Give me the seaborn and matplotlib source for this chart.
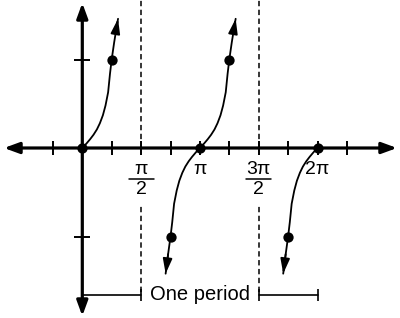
import numpy as np
import pandas as pd
import matplotlib
matplotlib.use("Agg")
import matplotlib.pyplot as plt
import seaborn as sns

sns.set_style("white")
plt.rcParams['font.family'] = ['Liberation Sans', 'DejaVu Sans']
plt.rcParams['text.color'] = 'black'

PI = np.pi
# ---- data ----
branch1_x = [0.0, 0.11, 0.21, 0.30, 0.39, 0.47, 0.55, 0.62, 0.69, 0.74, 0.785, 0.85, 0.93, 0.955]
branch1_y = [0.0, 0.05, 0.10, 0.15, 0.21, 0.28, 0.37, 0.48, 0.63, 0.84, 1.0, 1.19, 1.40, 1.46]
branch2_x = [2.226, 2.292, 2.357, 2.402, 2.452, 2.522, 2.592, 2.672, 2.752, 2.842, 2.932, 3.032, 3.142,
             3.252, 3.352, 3.442, 3.532, 3.612, 3.692, 3.762, 3.832, 3.882, 3.927, 3.992, 4.072, 4.097]
branch2_y = [-1.42, -1.2, -1.0, -0.84, -0.63, -0.48, -0.37, -0.28, -0.21, -0.15, -0.10, -0.05, 0.0,
             0.05, 0.10, 0.15, 0.21, 0.28, 0.37, 0.48, 0.63, 0.84, 1.0, 1.19, 1.40, 1.46]
branch3_x = [5.367, 5.433, 5.498, 5.543, 5.593, 5.663, 5.733, 5.813, 5.893, 5.983, 6.073, 6.173, 6.283]
branch3_y = [-1.42, -1.2, -1.0, -0.84, -0.63, -0.48, -0.37, -0.28, -0.21, -0.15, -0.10, -0.05, 0.0]
point_x = [0, PI / 4, 3 * PI / 4, PI, 5 * PI / 4, 7 * PI / 4, 2 * PI]
point_y = [0, 1, -1, 0, 1, -1, 0]
xtick_vals = [k * PI / 4 for k in range(-1, 10)]
ytick_vals = [1, -1]
asymptotes = [PI / 2, 3 * PI / 2]
xlabels = [(PI / 2, "π", "2"), (PI, "π", None), (3 * PI / 2, "3π", "2"), (2 * PI, "2π", None)]
period_label = "One period"

# ---- pixel mapping helpers (layout only) ----
X0, XS = 82.3, 29.4 / (PI / 4)   # px of x=0, px per radian
Y0, YS = 148.0, 88.5             # px of y=0, px per unit
def dy(py):
    return (Y0 - py) / YS
def dx(px):
    return (px - X0) / XS

fig = plt.figure(figsize=(4.0, 3.18), dpi=100)
ax = fig.add_axes([0, 0, 1, 1])
ax.set_xlim(dx(0), dx(400))
ax.set_ylim(dy(318), dy(0))
ax.axis("off")

black = "black"
# axes with arrows
axis_arrow = dict(arrowstyle="<|-|>,head_length=0.9,head_width=0.33", lw=2.3, color=black,
                  shrinkA=0, shrinkB=0)
ax.annotate("", xy=(dx(397), 0), xytext=(dx(4), 0), arrowprops=axis_arrow)
ax.annotate("", xy=(0, dy(3)), xytext=(0, dy(316)), arrowprops=axis_arrow)

# ticks
ax.vlines(xtick_vals, dy(148 + 7), dy(148 - 7), color=black, lw=1.4)
ax.hlines(ytick_vals, dx(82.3 - 8), dx(82.3 + 8), color=black, lw=1.4)

# asymptotes
dash = (0, (3.5, 2.3))
for a in asymptotes:
    ax.plot([a, a], [0, dy(0)], color=black, lw=1.1, ls=dash)
    ax.plot([a, a], [dy(292), dy(205)], color=black, lw=1.1, ls=dash)

# curves
branches = [(branch1_x, branch1_y), (branch2_x, branch2_y), (branch3_x, branch3_y)]
frames = []
for i, (bx, by) in enumerate(branches):
    frames.append(pd.DataFrame({"x": bx, "y": by, "branch": i}))
df = pd.concat(frames, ignore_index=True)
sns.lineplot(data=df, x="x", y="y", units="branch", estimator=None, sort=False,
             color=black, lw=1.3, ax=ax, legend=False)

# arrows at curve ends
curve_arrow = dict(arrowstyle="-|>,head_length=0.9,head_width=0.28", lw=1.3, color=black,
                   shrinkA=0, shrinkB=0)
ends = [(branch1_x, branch1_y, -1), (branch2_x, branch2_y, 0), (branch2_x, branch2_y, -1),
        (branch3_x, branch3_y, 0)]
for bx, by, idx in ends:
    prev = idx - 1 if idx == -1 else 1
    ax.annotate("", xy=(bx[idx], by[idx]), xytext=(bx[prev], by[prev]), arrowprops=curve_arrow)

# points
pts = pd.DataFrame({"x": point_x, "y": point_y})
sns.scatterplot(data=pts, x="x", y="y", color=black, s=55, edgecolor=black, linewidth=0, ax=ax, zorder=5)

# labels
fs = 14
for xv, num, den in xlabels:
    ax.text(xv, dy(170), num, ha="center", va="center", fontsize=fs, color=black)
    if den is not None:
        ax.plot([xv - dx(82.3 + 12.5), xv + dx(82.3 + 12.5)], [dy(178.5), dy(178.5)], color=black, lw=1.1)
        ax.text(xv, dy(190), den, ha="center", va="center", fontsize=fs, color=black)

# period bracket
yb = dy(295)
ax.plot([0, PI / 2], [yb, yb], color=black, lw=1.2)
ax.plot([3 * PI / 2, 2 * PI], [yb, yb], color=black, lw=1.2)
ax.vlines([PI / 2, 3 * PI / 2, 2 * PI], dy(301), dy(289), color=black, lw=1.2)
ax.text(PI, dy(294), period_label, ha="center", va="center", fontsize=14.5, color=black)

ax.set_xlabel("")
ax.set_ylabel("")
fig.savefig("out.png", dpi=100)
